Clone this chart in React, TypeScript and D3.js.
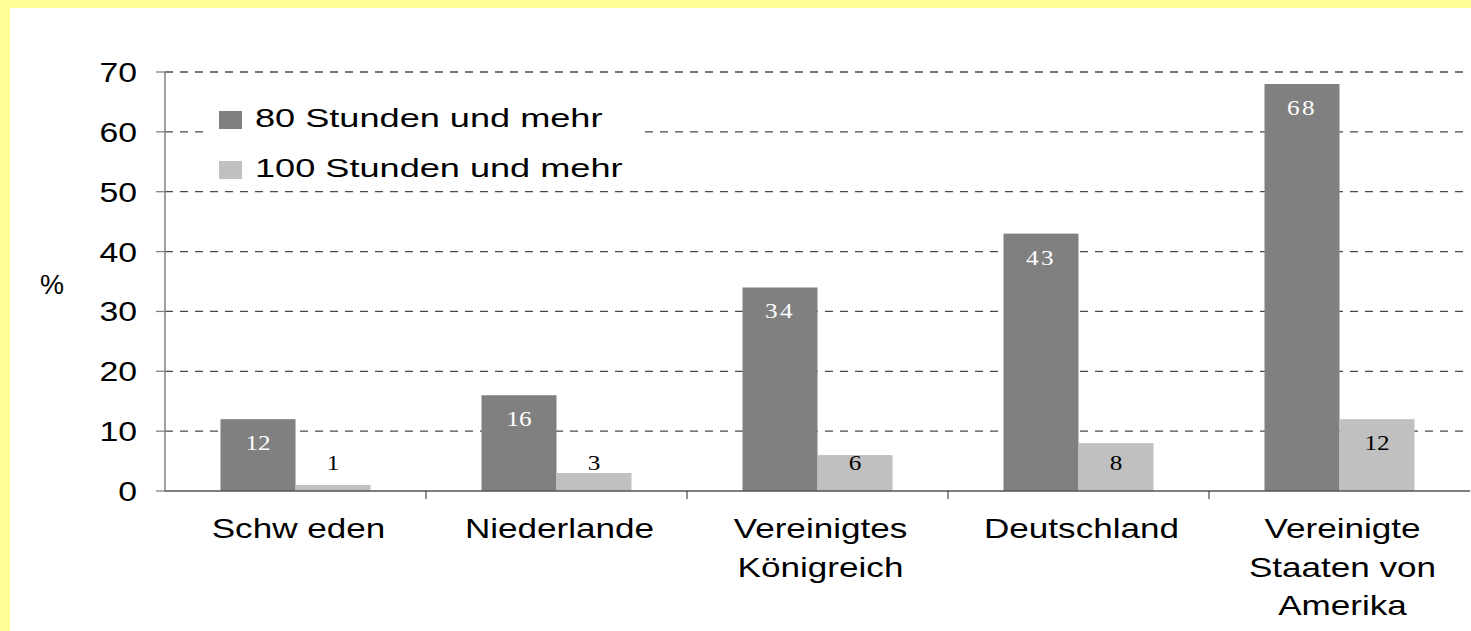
import React, { useEffect } from "react";
import * as d3 from "d3";

const categories: string[][] = [
  ["Schw eden"],
  ["Niederlande"],
  ["Vereinigtes", "Königreich"],
  ["Deutschland"],
  ["Vereinigte", "Staaten von", "Amerika"],
];
const seriesNames = ["80 Stunden und mehr", "100 Stunden und mehr"];
const series80 = [12, 16, 34, 43, 68];
const series100 = [1, 3, 6, 8, 12];
const yTicks = [0, 10, 20, 30, 40, 50, 60, 70];

const W = 1471;
const H = 631;
const SANS = "'Liberation Sans', Arial, sans-serif";
const SERIF = "'Liberation Serif', 'Times New Roman', serif";
const SX = 1.25;

function SText(props: {
  x: number;
  y: number;
  anchor?: string;
  size: number;
  fill?: string;
  family?: string;
  sx?: number;
  spacing?: number;
  children: React.ReactNode;
}) {
  const { x, y, anchor = "start", size, fill = "#000", family = SANS, sx = SX, spacing = 0, children } = props;
  return (
    <text
      transform={`translate(${x},${y}) scale(${sx},1)`}
      textAnchor={anchor}
      fontSize={size}
      fontFamily={family}
      fill={fill}
      letterSpacing={spacing}
    >
      {children}
    </text>
  );
}

export default function App() {
  useEffect(() => {
    document.body.style.margin = "0";
    document.body.style.overflow = "hidden";
  }, []);

  const left = 165;
  const right = 1470;
  const top = 72;
  const bottom = 491;

  const keys = categories.map((c) => c.join(" "));
  const x0 = d3.scaleBand<string>().domain(keys).range([left, right]).padding(0);
  const bw = x0.bandwidth();
  const barW = 75;
  const x1 = d3
    .scaleBand<string>()
    .domain(seriesNames)
    .range([bw / 2 - barW, bw / 2 + barW])
    .padding(0);
  const y = d3.scaleLinear().domain([0, 70]).range([bottom, top]);

  const data = [series80, series100];
  const colors = ["#808080", "#C0C0C0"];
  const labelColors = ["#ffffff", "#000000"];

  return (
    <svg width={W} height={H} style={{ position: "absolute", left: 0, top: 0, display: "block" }}>
      <rect x={0} y={0} width={W} height={H} fill="#FFFF99" />
      <rect x={10} y={8} width={W - 10} height={H - 8} fill="#ffffff" />

      {/* gridlines */}
      {yTicks
        .filter((t) => t > 0)
        .map((t) => (
          <line
            key={"g" + t}
            x1={left}
            x2={1465}
            y1={y(t)}
            y2={y(t)}
            stroke="#4a4a4a"
            strokeWidth={1.3}
            strokeDasharray="8,7"
          />
        ))}

      {/* legend background */}
      <rect x={208} y={94} width={432} height={92} fill="#ffffff" />
      {seriesNames.map((s, i) => (
        <g key={s}>
          <rect x={219} y={111 + i * 50} width={23} height={18} fill={colors[i]} />
          <SText x={255} y={127 + i * 50} size={26} sx={1.39}>
            {s}
          </SText>
        </g>
      ))}

      {/* bars */}
      {keys.map((k, ci) =>
        seriesNames.map((s, si) => {
          const v = data[si][ci];
          const bx = (x0(k) as number) + (x1(s) as number);
          return (
            <rect
              key={k + s}
              x={bx}
              y={y(v)}
              width={x1.bandwidth()}
              height={bottom - y(v)}
              fill={colors[si]}
            />
          );
        })
      )}

      {/* value labels */}
      {keys.map((k, ci) =>
        seriesNames.map((s, si) => {
          const v = data[si][ci];
          const cx = (x0(k) as number) + (x1(s) as number) + x1.bandwidth() / 2;
          const by = Math.min(y(v) + 31, 470);
          return (
            <SText
              key={"l" + k + s}
              x={cx}
              y={by}
              anchor="middle"
              size={21}
              family={SERIF}
              fill={labelColors[si]}
              sx={1.2}
              spacing={v >= 30 ? 2 : 0}
            >
              {v}
            </SText>
          );
        })
      )}

      {/* y axis */}
      <line x1={left} x2={left} y1={top} y2={bottom} stroke="#808080" strokeWidth={1.5} />
      {yTicks.map((t) => (
        <g key={"t" + t}>
          <line x1={156} x2={left} y1={y(t)} y2={y(t)} stroke="#808080" strokeWidth={1.3} />
          <SText x={137} y={y(t) + 10} anchor="end" size={27}>
            {t}
          </SText>
        </g>
      ))}
      <SText x={52} y={(top + bottom) / 2 + 12} anchor="middle" size={27} sx={1}>
        %
      </SText>

      {/* x axis */}
      <line x1={left} x2={right} y1={bottom} y2={bottom} stroke="#555555" strokeWidth={1.5} />
      {keys.map((k, i) =>
        i === 0 ? null : (
          <line
            key={"xt" + k}
            x1={x0(k) as number}
            x2={x0(k) as number}
            y1={bottom}
            y2={bottom + 8}
            stroke="#222"
            strokeWidth={1}
          />
        )
      )}
      {categories.map((lines, ci) => {
        const cx = (x0(keys[ci]) as number) + bw / 2;
        return lines.map((ln, li) => (
          <SText key={"c" + ci + li} x={cx + 3} y={538 + li * 38.5} anchor="middle" size={27} sx={1.3}>
            {ln}
          </SText>
        ));
      })}
    </svg>
  );
}
